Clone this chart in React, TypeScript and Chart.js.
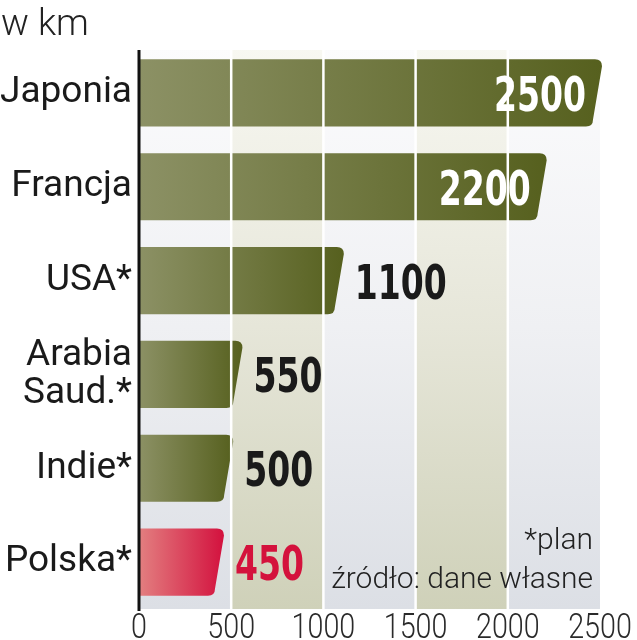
import React, { useEffect, useRef } from 'react';
import { Chart, registerables } from 'chart.js';

Chart.register(...registerables);

// ---- data ----
const categories: (string | string[])[] = ['Japonia', 'Francja', 'USA*', ['Arabia', 'Saud.*'], 'Indie*', 'Polska*'];
const values = [2500, 2200, 1100, 550, 500, 450];
const highlighted = [false, false, false, false, false, true];
const xMin = 0;
const xMax = 2500;
const xStep = 500;
const insideThreshold = 2000;
const unitLabel = 'w km';
const noteLines = ['*plan', 'źródło: dane własne'];

// ---- styles ----
const LIGHT = "'Roboto', 'Noto Sans', sans-serif";
const VALUE_FAMILY = "'Liberation Sans Narrow', 'DejaVu Sans Condensed', 'DejaVu Sans', sans-serif";

function drawCondensed(ctx: any, txt: string, x: number, y: number, sx: number) {
  ctx.save();
  ctx.translate(x, y);
  ctx.scale(sx, 1);
  ctx.fillText(txt, 0, 0);
  ctx.restore();
}

const decorPlugin = {
  id: 'decor',
  beforeDraw(chart: any) {
    const { ctx, chartArea } = chart;
    const xs = chart.scales.x;
    ctx.save();
    // unit label
    ctx.fillStyle = '#222';
    ctx.font = `300 37px ${LIGHT}`;
    ctx.textAlign = 'left';
    ctx.textBaseline = 'alphabetic';
    ctx.fillText(unitLabel, 1, 35);
    // column bands
    let idx = 0;
    for (let v = xMin; v < xMax; v += xStep) {
      const x0 = xs.getPixelForValue(v);
      const x1 = xs.getPixelForValue(v + xStep);
      const g = ctx.createLinearGradient(0, chartArea.top, 0, chartArea.bottom);
      if (idx % 2 === 0) {
        g.addColorStop(0, '#fcfcfd');
        g.addColorStop(0.5, '#eff0f3');
        g.addColorStop(1, '#dcdfe5');
      } else {
        g.addColorStop(0, '#f8f8f2');
        g.addColorStop(0.5, '#e6e6d9');
        g.addColorStop(1, '#cfd1b9');
      }
      ctx.fillStyle = g;
      ctx.fillRect(x0, chartArea.top + 4, x1 - x0, chartArea.bottom - chartArea.top - 4);
      idx++;
    }
    ctx.restore();
  },
  afterDatasetsDraw(chart: any) {
    const { ctx, chartArea } = chart;
    const xs = chart.scales.x;
    const meta = chart.getDatasetMeta(0);
    ctx.save();
    // bars
    meta.data.forEach((el: any, i: number) => {
      const { x, y, base, height } = el.getProps(['x', 'y', 'base', 'height'], true);
      const top = y - height / 2;
      const bottom = y + height / 2;
      const r = 7;
      const slant = 9;
      const xe = x + 2;
      const g = ctx.createLinearGradient(base, 0, xe, 0);
      if (highlighted[i]) {
        g.addColorStop(0, '#e37f80');
        g.addColorStop(1, '#d3113e');
      } else {
        g.addColorStop(0, '#8c9165');
        g.addColorStop(1, '#56601e');
      }
      ctx.fillStyle = g;
      ctx.beginPath();
      ctx.moveTo(base, top);
      ctx.lineTo(xe - r, top);
      ctx.quadraticCurveTo(xe, top, xe, top + r);
      ctx.lineTo(xe - slant, bottom - r);
      ctx.quadraticCurveTo(xe - slant, bottom, xe - slant - r, bottom);
      ctx.lineTo(base, bottom);
      ctx.closePath();
      ctx.fill();
    });
    // white separators
    ctx.strokeStyle = '#ffffff';
    ctx.lineWidth = 2.5;
    for (let v = xMin + xStep; v < xMax; v += xStep) {
      const px = xs.getPixelForValue(v);
      ctx.beginPath();
      ctx.moveTo(px, chartArea.top);
      ctx.lineTo(px, chartArea.bottom);
      ctx.stroke();
    }
    // value labels
    const size = 48;
    ctx.font = `bold ${size}px ${VALUE_FAMILY}`;
    const digitW = ctx.measureText('0').width;
    const sx = Math.min(1.2, 23 / digitW);
    ctx.textBaseline = 'alphabetic';
    meta.data.forEach((el: any, i: number) => {
      const { x, y } = el.getProps(['x', 'y'], true);
      const txt = String(values[i]);
      const inside = values[i] >= insideThreshold;
      if (inside) {
        ctx.fillStyle = '#ffffff';
        ctx.textAlign = 'right';
        drawCondensed(ctx, txt, x - 14, y + 18, sx);
      } else {
        ctx.fillStyle = highlighted[i] ? '#d4123c' : '#1a1a1a';
        ctx.textAlign = 'left';
        drawCondensed(ctx, txt, x + 13, y + 18, sx);
      }
    });
    // notes
    ctx.fillStyle = '#222';
    ctx.font = `300 30px ${LIGHT}`;
    ctx.textAlign = 'right';
    ctx.textBaseline = 'alphabetic';
    ctx.fillText(noteLines[0], chartArea.right - 7, chartArea.bottom - 60);
    ctx.fillText(noteLines[1], chartArea.right - 7, chartArea.bottom - 21);
    // y axis line
    ctx.strokeStyle = '#111';
    ctx.lineWidth = 3;
    ctx.beginPath();
    ctx.moveTo(chartArea.left, chartArea.top + 4);
    ctx.lineTo(chartArea.left, chartArea.bottom + 2);
    ctx.stroke();
    // x tick labels (condensed light)
    ctx.fillStyle = '#2a2a2a';
    ctx.font = `300 35px ${LIGHT}`;
    ctx.textAlign = 'center';
    const tsx = 0.82;
    xs.ticks.forEach((t: any) => {
      drawCondensed(ctx, String(t.value), xs.getPixelForValue(t.value), chartArea.bottom + 29, tsx);
    });
    ctx.restore();
  },
};

export default function App() {
  const ref = useRef<HTMLCanvasElement | null>(null);
  useEffect(() => {
    document.body.style.margin = '0';
    document.body.style.background = '#ffffff';
    if (!ref.current) return;
    const chart = new Chart(ref.current, {
      type: 'bar',
      data: {
        labels: categories as any,
        datasets: [
          {
            data: values,
            backgroundColor: 'rgba(0,0,0,0)',
            borderWidth: 0,
            barPercentage: 0.716,
            categoryPercentage: 1,
          },
        ],
      },
      options: {
        indexAxis: 'y',
        responsive: false,
        animation: false,
        devicePixelRatio: 1,
        layout: { padding: { top: 46, right: 37, bottom: 31, left: 0 } },
        plugins: { legend: { display: false }, tooltip: { enabled: false }, title: { display: false } },
        scales: {
          x: {
            min: xMin,
            max: xMax,
            grid: { display: false, drawTicks: false, tickLength: 0 },
            border: { display: false },
            ticks: {
              stepSize: xStep,
              display: false,
            },
          },
          y: {
            grid: { display: false, drawTicks: false, tickLength: 0 },
            border: { display: false },
            afterFit: (scale: any) => {
              scale.width = 139;
            },
            ticks: {
              padding: 7,
              color: '#1a1a1a',
              font: { family: LIGHT, size: 37, weight: '400' as any, lineHeight: 1.03 },
            },
          },
        },
      },
      plugins: [decorPlugin],
    });
    return () => chart.destroy();
  }, []);
  return (
    <div style={{ width: 637, height: 640 }}>
      <canvas ref={ref} width={637} height={640} style={{ width: 637, height: 640, display: 'block' }} />
    </div>
  );
}
